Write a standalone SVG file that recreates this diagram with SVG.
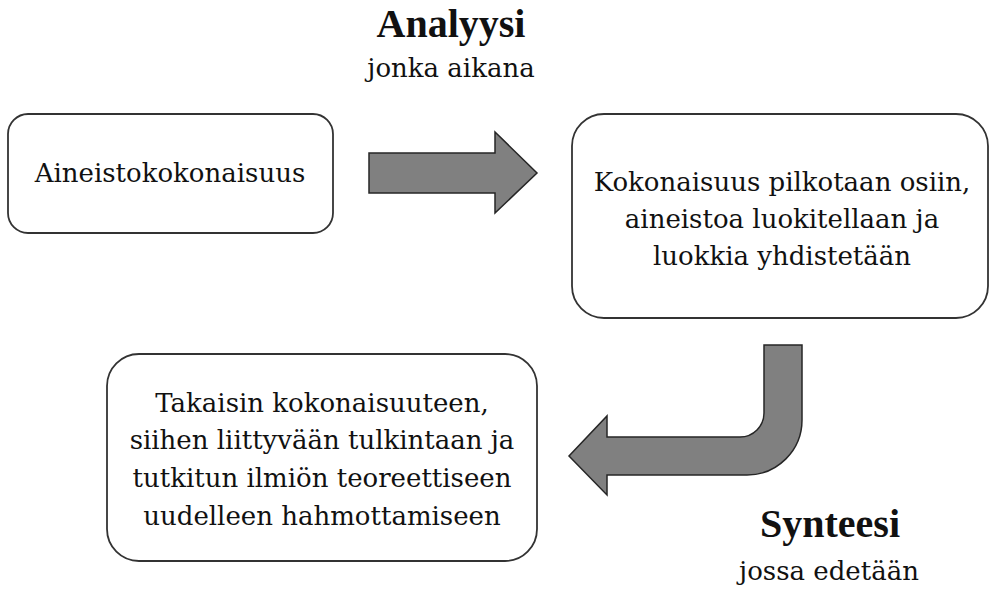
<svg xmlns="http://www.w3.org/2000/svg" width="989" height="590" viewBox="0 0 989 590">
<style>
.box{fill:#fff;stroke:#333;stroke-width:1.8}
.arrow{fill:#808080;stroke:#262626;stroke-width:1.5;stroke-linejoin:miter}
.t{font-family:"DejaVu Serif","Liberation Serif",serif;font-size:26px;fill:#111;text-anchor:middle}
.h{font-family:"Liberation Serif","DejaVu Serif",serif;font-size:40px;font-weight:bold;fill:#111;text-anchor:middle}
</style>
<rect width="989" height="590" fill="#fff"/>
<g id="title-analyysi">
<text class="h" x="451" y="37">Analyysi</text>
<text class="t" x="451" y="77">jonka aikana</text>
</g>
<g id="title-synteesi">
<text class="h" x="830" y="537">Synteesi</text>
<text class="t" x="829" y="580">jossa edetään</text>
</g>
<g id="node-aineisto">
<rect class="box" x="8" y="114" width="325" height="119" rx="20"/>
<text class="t" x="170" y="182">Aineistokokonaisuus</text>
</g>
<g id="node-analyysi">
<rect class="box" x="572" y="114" width="416" height="204" rx="32"/>
<text class="t" x="782" y="191">Kokonaisuus pilkotaan osiin,</text>
<text class="t" x="782" y="228">aineistoa luokitellaan ja</text>
<text class="t" x="782" y="265">luokkia yhdistetään</text>
</g>
<g id="node-synteesi">
<rect class="box" x="107" y="354" width="430" height="207" rx="32"/>
<text class="t" x="322" y="412">Takaisin kokonaisuuteen,</text>
<text class="t" x="322" y="449">siihen liittyvään tulkintaan ja</text>
<text class="t" x="322" y="487">tutkitun ilmiön teoreettiseen</text>
<text class="t" x="322" y="525">uudelleen hahmottamiseen</text>
</g>
<g id="connectors">
<polygon class="arrow" points="369,153 495,153 495,132 537,173 495,213 495,193 369,193"/>
<path class="arrow" d="M764,345 L802,345 L802,420 A55,55 0 0 1 747,475 L607,475 L607,495 L569,456 L607,416 L607,437 L740,437 A24,24 0 0 0 764,413 Z"/>
</g>
</svg>
